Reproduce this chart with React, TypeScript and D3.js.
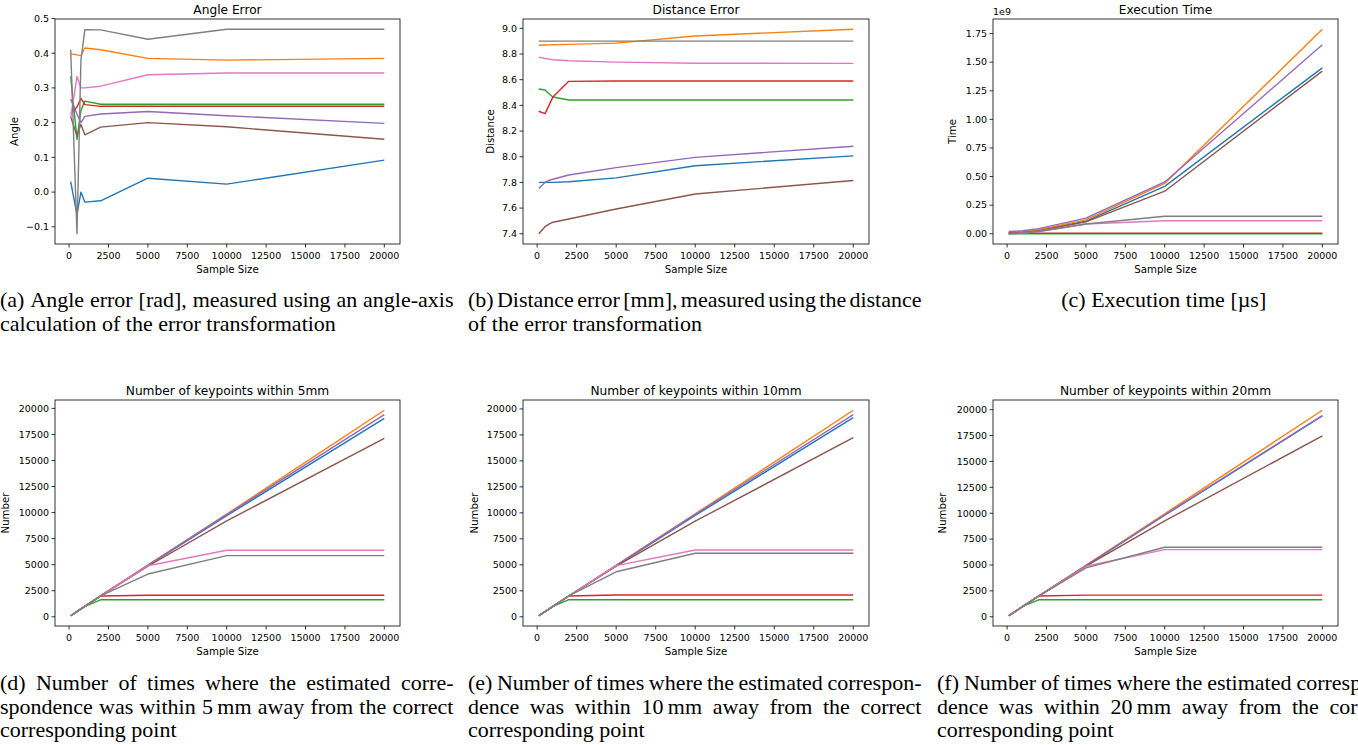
import React from 'react';
import * as d3 from 'd3';

// ---------- DATA ----------
const sampleSizes = [100, 500, 750, 1000, 2000, 5000, 10000, 20000];
const seriesColors = ['#1f77b4', '#ff7f0e', '#2ca02c', '#d62728', '#9467bd', '#8c564b', '#e377c2', '#7f7f7f'];
const xTickValues = [0, 2500, 5000, 7500, 10000, 12500, 15000, 17500, 20000];

// order of rows: blue, orange, green, red, purple, brown, pink, gray
const angleError = [
  [0.03, -0.065, 0.0, -0.029, -0.025, 0.04, 0.023, 0.092],
  [0.398, 0.395, 0.393, 0.415, 0.41, 0.385, 0.38, 0.385],
  [0.333, 0.152, 0.235, 0.262, 0.253, 0.253, 0.253, 0.253],
  [0.226, 0.245, 0.27, 0.252, 0.247, 0.247, 0.247, 0.247],
  [0.268, 0.225, 0.2, 0.218, 0.225, 0.232, 0.22, 0.198],
  [0.217, 0.163, 0.195, 0.165, 0.187, 0.2, 0.188, 0.152],
  [0.213, 0.333, 0.3, 0.3, 0.305, 0.338, 0.343, 0.343],
  [0.41, -0.12, 0.38, 0.468, 0.467, 0.44, 0.469, 0.469],
];
const angleTicks = [-0.1, 0.0, 0.1, 0.2, 0.3, 0.4, 0.5];

const distanceError = [
  [7.8, 7.8, 7.8, 7.8, 7.805, 7.835, 7.93, 8.007],
  [8.868, 8.87, 8.871, 8.872, 8.875, 8.885, 8.94, 8.993],
  [8.527, 8.52, 8.49, 8.465, 8.442, 8.442, 8.442, 8.442],
  [8.354, 8.336, 8.4, 8.466, 8.587, 8.59, 8.59, 8.59],
  [7.753, 7.8, 7.815, 7.825, 7.858, 7.915, 7.995, 8.082],
  [7.4, 7.455, 7.475, 7.49, 7.515, 7.593, 7.71, 7.815],
  [8.776, 8.765, 8.76, 8.755, 8.747, 8.737, 8.728, 8.727],
  [8.9, 8.9, 8.9, 8.9, 8.9, 8.9, 8.9, 8.9],
];
const distanceTicks = [7.4, 7.6, 7.8, 8.0, 8.2, 8.4, 8.6, 8.8, 9.0];

// execution time, in units of 1e9
const executionTime = [
  [0.01, 0.012, 0.014, 0.016, 0.03, 0.11, 0.414, 1.45],
  [0.012, 0.014, 0.016, 0.018, 0.035, 0.122, 0.44, 1.788],
  [0.0, 0.0, 0.0, 0.0, 0.0, 0.0, 0.0, 0.0],
  [0.006, 0.006, 0.006, 0.006, 0.006, 0.006, 0.006, 0.006],
  [0.02, 0.022, 0.024, 0.026, 0.045, 0.137, 0.453, 1.652],
  [0.005, 0.007, 0.009, 0.011, 0.025, 0.104, 0.372, 1.422],
  [0.0, 0.002, 0.004, 0.006, 0.02, 0.085, 0.114, 0.114],
  [0.0, 0.002, 0.004, 0.006, 0.02, 0.085, 0.153, 0.153],
];
const timeTicks = [0, 0.25, 0.5, 0.75, 1.0, 1.25, 1.5, 1.75];

const keypoints5mm = [
  [100, 500, 750, 1000, 2000, 4900, 9700, 19050],
  [100, 500, 750, 1000, 2000, 4950, 9850, 19820],
  [100, 500, 750, 1000, 1630, 1630, 1630, 1630],
  [100, 500, 750, 1000, 1990, 2070, 2070, 2070],
  [100, 500, 750, 1000, 2000, 4950, 9800, 19400],
  [100, 500, 750, 1000, 2000, 4850, 9200, 17130],
  [100, 500, 750, 1000, 2000, 4900, 6390, 6390],
  [100, 500, 750, 1000, 2000, 4100, 5870, 5870],
];
const keypoints10mm = [
  [100, 500, 750, 1000, 2000, 4900, 9750, 19160],
  [100, 500, 750, 1000, 2000, 4950, 9900, 19870],
  [100, 500, 750, 1000, 1640, 1640, 1640, 1640],
  [100, 500, 750, 1000, 2000, 2090, 2090, 2090],
  [100, 500, 750, 1000, 2000, 4950, 9850, 19450],
  [100, 500, 750, 1000, 2000, 4870, 9200, 17230],
  [100, 500, 750, 1000, 2000, 4920, 6430, 6430],
  [100, 500, 750, 1000, 2000, 4330, 6110, 6110],
];
const keypoints20mm = [
  [100, 500, 750, 1000, 2000, 4920, 9800, 19400],
  [100, 500, 750, 1000, 2000, 4970, 9950, 19940],
  [100, 500, 750, 1000, 1640, 1640, 1640, 1640],
  [100, 500, 750, 1000, 2000, 2090, 2090, 2090],
  [100, 500, 750, 1000, 2000, 4950, 9850, 19420],
  [100, 500, 750, 1000, 2000, 4900, 9250, 17470],
  [100, 500, 750, 1000, 2000, 4880, 6480, 6480],
  [100, 500, 750, 1000, 2000, 4720, 6710, 6710],
];
const keypointTicks = [0, 2500, 5000, 7500, 10000, 12500, 15000, 17500, 20000];

const titles = ['Angle Error', 'Distance Error', 'Execution Time', 'Number of keypoints within 5mm', 'Number of keypoints within 10mm', 'Number of keypoints within 20mm'];
const yLabels = ['Angle', 'Distance', 'Time', 'Number', 'Number', 'Number'];

const captionA = ['(a) Angle error [rad], measured using an angle-axis', 'calculation of the error transformation'];
const captionB = ['(b) Distance error [mm], measured using the distance', 'of the error transformation'];
const captionC = ['(c) Execution time [\u00b5s]'];
const captionD = ['(d) Number of times where the estimated corre-', 'spondence was within 5\u2009mm away from the correct', 'corresponding point'];
const captionE = ['(e) Number of times where the estimated correspon-', 'dence was within 10\u2009mm away from the correct', 'corresponding point'];
const captionF = ['(f) Number of times where the estimated correspon-', 'dence was within 20\u2009mm away from the correct', 'corresponding point'];

// ---------- HELPERS ----------
const FONT = '"DejaVu Sans", sans-serif';
const SERIF = '"Liberation Serif", "Times New Roman", serif';
const CAP_SIZE = 20;
const CAP_STRETCH = 1.1;

let _ctx: CanvasRenderingContext2D | null = null;
function measure(text: string, font: string) {
  if (!_ctx) _ctx = document.createElement('canvas').getContext('2d');
  _ctx!.font = font;
  return _ctx!.measureText(text).width;
}

type PanelProps = {
  left: number; top: number; right: number; bottom: number;
  title: string; ylabel: string; ylabelOffset: number;
  data: number[][]; yTicks: number[]; yFmt: (v: number) => string; offsetText?: string;
};

function Panel(p: PanelProps) {
  const xExt = d3.extent(sampleSizes) as [number, number];
  const xPad = (xExt[1] - xExt[0]) * 0.05;
  const all = p.data.flat();
  const yExt = d3.extent(all) as [number, number];
  const yPad = (yExt[1] - yExt[0]) * 0.05;
  const x = d3.scaleLinear().domain([xExt[0] - xPad, xExt[1] + xPad]).range([p.left, p.right]);
  const y = d3.scaleLinear().domain([yExt[0] - yPad, yExt[1] + yPad]).range([p.bottom, p.top]);
  const line = d3.line<number>().x((_, i) => x(sampleSizes[i])).y(d => y(d));
  const yTicks = p.yTicks.filter(t => y(t) >= p.top - 1.5 && y(t) <= p.bottom + 1.5);
  const id = `clip-${p.left}-${p.top}`;
  return (
    <g>
      <defs>
        <clipPath id={id}>
          <rect x={p.left} y={p.top} width={p.right - p.left} height={p.bottom - p.top} />
        </clipPath>
      </defs>
      <g clipPath={`url(#${id})`}>
        {p.data.map((s, i) => (
          <path key={i} d={line(s) || ''} fill="none" stroke={seriesColors[i]} strokeWidth={1.4} strokeLinejoin="round" />
        ))}
      </g>
      <rect x={p.left} y={p.top} width={p.right - p.left} height={p.bottom - p.top} fill="none" stroke="#000" strokeWidth={0.8} />
      {xTickValues.map(t => (
        <g key={t}>
          <line x1={x(t)} x2={x(t)} y1={p.bottom} y2={p.bottom + 3.5} stroke="#000" strokeWidth={0.8} />
          <text x={x(t)} y={p.bottom + 15} textAnchor="middle" fontSize={9.5} fontFamily={FONT} fill="#000">{t}</text>
        </g>
      ))}
      {yTicks.map(t => (
        <g key={t}>
          <line x1={p.left - 3.5} x2={p.left} y1={y(t)} y2={y(t)} stroke="#000" strokeWidth={0.8} />
          <text x={p.left - 6} y={y(t)} dy="0.35em" textAnchor="end" fontSize={9.5} fontFamily={FONT} fill="#000">{p.yFmt(t)}</text>
        </g>
      ))}
      <text x={(p.left + p.right) / 2} y={p.top - 5.5} textAnchor="middle" fontSize={12.2} fontFamily={FONT} fill="#000">{p.title}</text>
      <text x={(p.left + p.right) / 2} y={p.bottom + 28.5} textAnchor="middle" fontSize={10.2} fontFamily={FONT} fill="#000">Sample Size</text>
      <text transform={`translate(${p.left - p.ylabelOffset},${(p.top + p.bottom) / 2}) rotate(-90)`} dy="0.35em" textAnchor="middle" fontSize={10.2} fontFamily={FONT} fill="#000">{p.ylabel}</text>
      {p.offsetText && (
        <text x={p.left} y={p.top - 4} fontSize={9.5} fontFamily={FONT} fill="#000">{p.offsetText}</text>
      )}
    </g>
  );
}

function Caption({ x, y, width, lines, lineH, center }: { x: number; y: number; width: number; lines: string[]; lineH: number; center?: boolean }) {
  const font = `${CAP_SIZE}px ${SERIF}`;
  const localW = width / CAP_STRETCH;
  return (
    <g fontFamily={SERIF} fontSize={CAP_SIZE} fill="#000">
      {lines.map((ln, li) => {
        const yy = y + li * lineH;
        const tr = `translate(${x},${yy}) scale(${CAP_STRETCH},1)`;
        if (center) return <text key={li} transform={tr} x={localW / 2} y={0} textAnchor="middle">{ln}</text>;
        const last = li === lines.length - 1;
        if (last) return <text key={li} transform={tr} x={0} y={0}>{ln}</text>;
        const words = ln.split(' ');
        const widths = words.map(w => measure(w, font));
        const gap = (localW - d3.sum(widths)) / (words.length - 1);
        let cx = 0;
        return (
          <text key={li} transform={tr} y={0}>
            {words.map((w, i) => {
              const el = <tspan key={i} x={cx}>{w}</tspan>;
              cx += widths[i] + gap;
              return el;
            })}
          </text>
        );
      })}
    </g>
  );
}

const f1 = d3.format('.1f');
const f2 = d3.format('.2f');
const f0 = d3.format('d');

export default function App() {
  const colX = [0, 468, 937];
  const colW = 453.5;
  return (
    <svg width={1358} height={745} style={{ position: 'absolute', left: 0, top: 0, background: '#fff' }}>
      <rect x={0} y={0} width={1358} height={745} fill="#fff" />
      <Panel left={55} top={19} right={400} bottom={244} title={titles[0]} ylabel={yLabels[0]} ylabelOffset={41} data={angleError} yTicks={angleTicks} yFmt={f1} />
      <Panel left={523} top={19} right={869} bottom={244} title={titles[1]} ylabel={yLabels[1]} ylabelOffset={32.5} data={distanceError} yTicks={distanceTicks} yFmt={f1} />
      <Panel left={993} top={19} right={1338} bottom={244} title={titles[2]} ylabel={yLabels[2]} ylabelOffset={40.5} data={executionTime} yTicks={timeTicks} yFmt={f2} offsetText="1e9" />
      <Panel left={55} top={400} right={400} bottom={626} title={titles[3]} ylabel={yLabels[3]} ylabelOffset={50} data={keypoints5mm} yTicks={keypointTicks} yFmt={f0} />
      <Panel left={523} top={400} right={869} bottom={626} title={titles[4]} ylabel={yLabels[4]} ylabelOffset={49} data={keypoints10mm} yTicks={keypointTicks} yFmt={f0} />
      <Panel left={993} top={400} right={1338} bottom={626} title={titles[5]} ylabel={yLabels[5]} ylabelOffset={50.3} data={keypoints20mm} yTicks={keypointTicks} yFmt={f0} />
      <Caption x={colX[0]} y={307} width={colW} lines={captionA} lineH={24} />
      <Caption x={colX[1]} y={307} width={colW} lines={captionB} lineH={24} />
      <Caption x={colX[2]} y={307} width={colW} lines={captionC} lineH={24} center />
      <Caption x={colX[0]} y={690} width={colW} lines={captionD} lineH={23.5} />
      <Caption x={colX[1]} y={690} width={colW} lines={captionE} lineH={23.5} />
      <Caption x={colX[2]} y={690} width={colW} lines={captionF} lineH={23.5} />
    </svg>
  );
}
